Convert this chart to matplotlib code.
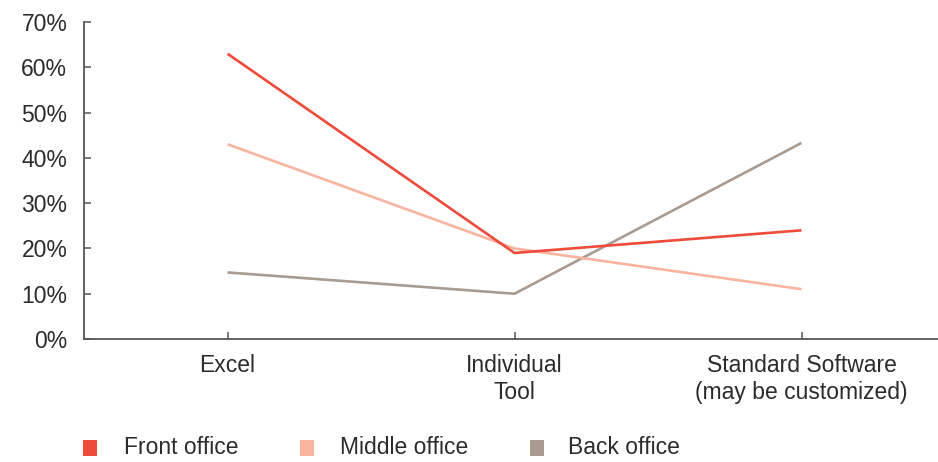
import matplotlib
matplotlib.use("Agg")
import matplotlib.pyplot as plt
from matplotlib.patches import Rectangle

categories = ["Excel", "Individual\nTool", "Standard Software\n(may be customized)"]
front_office = [63, 19, 24]
middle_office = [43, 20, 11]
back_office = [14.7, 10, 43.3]
series_names = ["Front office", "Middle office", "Back office"]
series_colors = ["#EE4B3B", "#F9B4A0", "#A89C92"]
y_ticks = [0, 10, 20, 30, 40, 50, 60, 70]

plt.rcParams["font.family"] = ["Liberation Sans", "DejaVu Sans"]
text_color = "#2b2b2b"
axis_color = "#555555"
font_size = 16.5

fig = plt.figure(figsize=(9.38, 4.62), dpi=100)
# the x axis runs a little past the right edge of the figure
ax = fig.add_axes([84 / 938, 1 - 339 / 462, 861 / 938, (339 - 22) / 462])

x = list(range(len(categories)))
# draw in an order so the red line sits on top
ax.plot(x, back_office, color=series_colors[2], lw=1.9, solid_capstyle="butt", zorder=2)
ax.plot(x, middle_office, color=series_colors[1], lw=1.9, solid_capstyle="butt", zorder=3)
ax.plot(x, front_office, color=series_colors[0], lw=1.9, solid_capstyle="butt", zorder=4)

ax.set_xlim(-0.5, 2.5)
ax.set_ylim(0, 70)
ax.set_yticks(y_ticks)
ax.set_yticklabels([f"{v}%" for v in y_ticks])
ax.set_xticks(x)
ax.set_xticklabels(categories, linespacing=1.22)

for side in ["top", "right"]:
    ax.spines[side].set_visible(False)
for side in ["left", "bottom"]:
    ax.spines[side].set_color(axis_color)
    ax.spines[side].set_linewidth(1.3)

ax.tick_params(axis="both", direction="in", length=5, width=1.1, color=axis_color,
               labelsize=font_size, labelcolor=text_color)
ax.tick_params(axis="y", pad=12)
ax.tick_params(axis="x", pad=10.5)

# legend along the bottom
legend_x_box = [83, 300, 530]
legend_x_text = [124, 340, 568]
for name, col, bx, tx in zip(series_names, series_colors, legend_x_box, legend_x_text):
    fig.add_artist(Rectangle((bx / 938, 1 - 456 / 462), 14 / 938, 16 / 462,
                             transform=fig.transFigure, color=col, lw=0))
    fig.text(tx / 938, 1 - 448 / 462, name, fontsize=font_size, color=text_color,
             va="center", ha="left")

fig.savefig("out.png", dpi=100)
